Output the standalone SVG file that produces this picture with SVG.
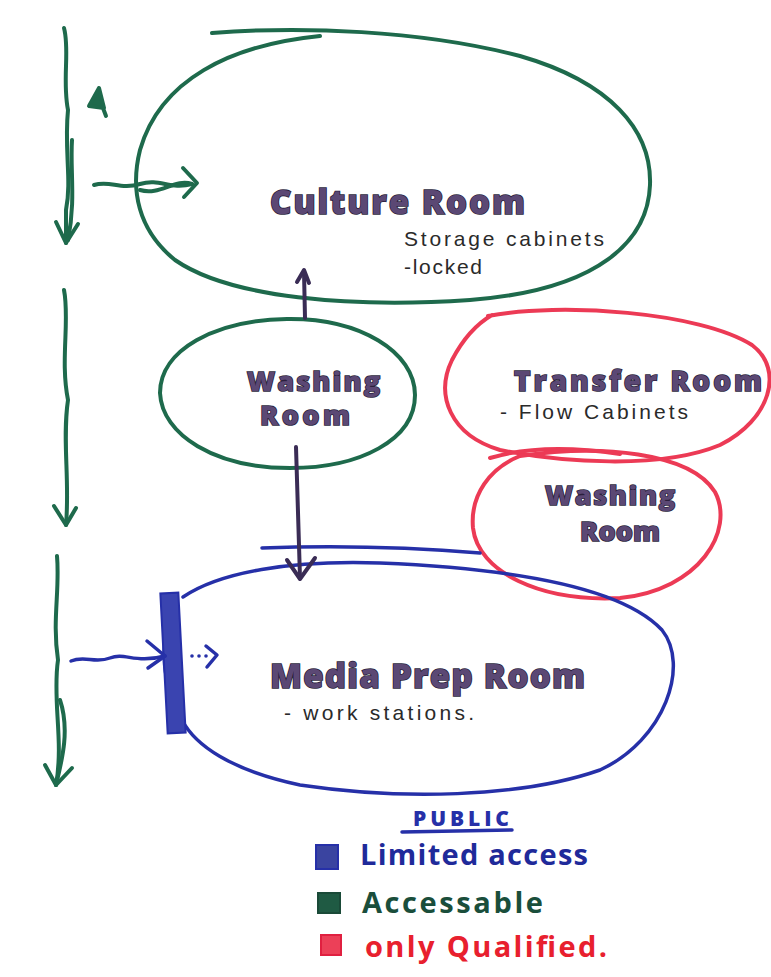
<svg xmlns="http://www.w3.org/2000/svg" width="771" height="977" viewBox="0 0 771 977">
  <defs>
    <style>
      .green { fill: none; stroke: #1e6a4c; stroke-width: 4; stroke-linecap: round; stroke-linejoin: round; }
      .red { fill: none; stroke: #ec3a55; stroke-width: 4; stroke-linecap: round; stroke-linejoin: round; }
      .blue { fill: none; stroke: #2630a8; stroke-width: 3.5; stroke-linecap: round; stroke-linejoin: round; }
      .purple { fill: none; stroke: #3a2c55; stroke-width: 4; stroke-linecap: round; stroke-linejoin: round; }
      .title { font-family: "Open Sans", "Liberation Sans", sans-serif; font-weight: 800; fill: #5b4874; stroke: #2b1f3c; stroke-width: 1.6; paint-order: stroke; }
      .note { font-family: "Liberation Sans", "DejaVu Sans", sans-serif; font-size: 21px; fill: #2a2a2a; }
      .legend { font-family: "Open Sans", "Liberation Sans", sans-serif; font-weight: 700; font-size: 29px; }
    </style>
  </defs>
  <rect width="771" height="977" fill="#ffffff"/>

  <!-- rooms -->
  <g id="culture-room">
    <path class="green" d="M212,33 C300,26 420,30 520,56 C610,82 652,130 650,185 C648,240 600,290 470,300 C350,308 230,298 175,260 C138,230 130,190 140,150 C160,80 230,45 320,36"/>
    <text class="title" x="270" y="214" font-size="33" textLength="255" lengthAdjust="spacing">Culture Room</text>
    <text class="note" x="404" y="246" textLength="200" lengthAdjust="spacing">Storage cabinets</text>
    <text class="note" x="404" y="274" textLength="78" lengthAdjust="spacing">-locked</text>
  </g>

  <g id="washing-room-green">
    <path class="green" d="M287,319 C360,318 415,352 415,395 C415,440 360,468 290,468 C215,468 162,435 160,393 C160,350 215,320 287,319 Z"/>
    <text class="title" x="247" y="391" font-size="27" textLength="133" lengthAdjust="spacing">Washing</text>
    <text class="title" x="260" y="425" font-size="27" textLength="90" lengthAdjust="spacing">Room</text>
  </g>

  <g id="transfer-room">
    <path class="red" d="M488,316 C560,302 700,312 752,345 C785,370 770,420 720,445 C660,470 560,462 500,450 C450,435 435,395 452,360 C465,335 480,322 492,315"/>
    <path class="red" d="M490,458 C530,446 580,448 620,454"/>
    <text class="title" x="514" y="391" font-size="28" textLength="248" lengthAdjust="spacing">Transfer Room</text>
    <text class="note" x="500" y="419" textLength="188" lengthAdjust="spacing">- Flow Cabinets</text>
  </g>

  <g id="washing-room-red">
    <path class="red" d="M520,456 C600,444 690,452 715,492 C735,530 700,590 620,598 C540,602 478,572 473,528 C470,495 490,468 520,456 Z"/>
    <text class="title" x="545" y="505" font-size="27" textLength="130" lengthAdjust="spacing">Washing</text>
    <text class="title" x="580" y="541" font-size="27" textLength="80" lengthAdjust="spacing">Room</text>
  </g>

  <g id="media-prep-room">
    <path class="blue" d="M262,548 C340,545 420,548 480,553"/>
    <path class="blue" d="M183,597 C220,572 290,560 380,563 C500,568 620,585 662,630 C690,665 665,740 600,770 C520,798 400,800 300,785 C230,770 195,745 182,720"/>
    <path class="blue" d="M175,612 C160,630 160,680 178,705"/>
    <rect x="164" y="593" width="18" height="140" fill="#3a44b0" stroke="#2630a8" stroke-width="2" transform="rotate(-3 173 663)"/>
    <text class="title" x="270" y="688" font-size="33" textLength="315" lengthAdjust="spacing">Media Prep Room</text>
    <text class="note" x="284" y="720" textLength="190" lengthAdjust="spacing">- work stations.</text>
  </g>

  <!-- connectors -->
  <g id="connectors">
    <!-- vertical flow arrows on the left -->
    <path class="green" d="M64,28 C70,50 62,80 68,110 C64,150 72,180 66,210 L66,243"/>
    <path class="green" d="M72,140 C70,170 76,200 68,240"/>
    <path class="green" d="M56,222 L66,243 L78,224"/>
    <path class="green" d="M64,290 C70,320 60,360 68,400 C62,440 70,480 66,525"/>
    <path class="green" d="M54,506 L66,525 L76,508"/>
    <path class="green" d="M57,556 C60,590 52,620 58,660 C52,700 64,740 56,785"/>
    <path class="green" d="M60,700 C70,730 62,760 56,785"/>
    <path class="green" d="M45,765 L56,785 L72,768"/>

    <!-- entry into culture room -->
    <path class="green" d="M94,185 C110,180 120,190 140,184 C160,178 170,190 192,184"/>
    <path class="green" d="M140,190 C160,196 175,178 192,184"/>
    <path class="green" d="M183,168 L197,183 L184,197"/>
    <path fill="#1e6a4c" stroke="#1e6a4c" stroke-width="4" stroke-linejoin="round" stroke-linecap="round" d="M99,88 L89,106 L104,108 Z M103,108 L106,116"/>

    <!-- washing room to culture room -->
    <path class="purple" d="M305,318 L304,272"/>
    <path class="purple" d="M297,282 L304,270 L309,283"/>

    <!-- washing room to media prep room -->
    <path class="purple" d="M296,447 L300,578"/>
    <path class="purple" d="M287,560 L300,579 L315,558"/>

    <!-- entry into media prep room -->
    <path class="blue" d="M71,661 C85,655 95,664 110,658 C125,652 135,664 165,656"/>
    <path class="blue" d="M147,641 L165,656 L148,668"/>
    <circle cx="192" cy="656" r="1.8" fill="#2630a8"/>
    <circle cx="199" cy="656" r="1.8" fill="#2630a8"/>
    <circle cx="206" cy="656" r="1.8" fill="#2630a8"/>
    <path class="blue" d="M206,646 L217,655 L207,667"/>
  </g>

  <!-- key -->
  <g id="legend">
    <text x="413" y="826" font-family="Open Sans, Liberation Sans, sans-serif" font-weight="800" font-size="21" fill="#2630a8" textLength="96" lengthAdjust="spacing">PUBLIC</text>
    <path class="blue" d="M402,832 L512,830"/>
    <rect x="316" y="845" width="22" height="24" fill="#3a44a0" stroke="#2630a8" stroke-width="2"/>
    <text class="legend" x="360" y="865" fill="#1f2a9a" textLength="228" lengthAdjust="spacing">Limited access</text>
    <rect x="318" y="893" width="22" height="20" fill="#1f5a43" stroke="#1a4a38" stroke-width="2"/>
    <text class="legend" x="362" y="913" fill="#1a4e3b" textLength="181" lengthAdjust="spacing">Accessable</text>
    <rect x="321" y="935" width="20" height="20" fill="#ec4058" stroke="#e02040" stroke-width="2"/>
    <text class="legend" x="365" y="957" fill="#e8202e" textLength="242" lengthAdjust="spacing">only Qualified.</text>
  </g>
</svg>
